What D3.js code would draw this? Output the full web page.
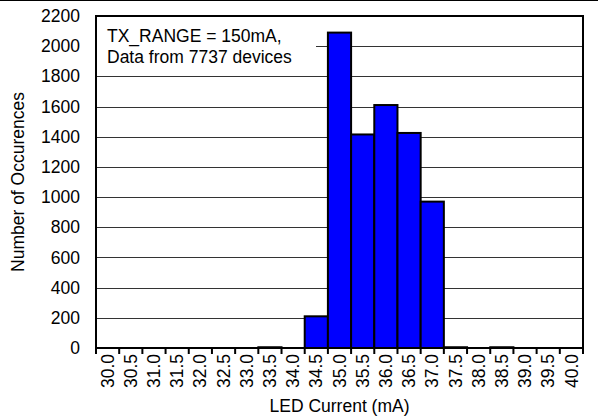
<!DOCTYPE html>
<html>
<head>
<meta charset="utf-8">
<script src="https://cdn.jsdelivr.net/npm/d3@7"></script>
<style>
	body {margin: 0; background: #fff;}
	svg text {font-family: "Liberation Sans", Arial, sans-serif; fill: #000;}
</style>
</head>
<body>
<div id="chart"></div>
<script>
//LED current bins (mA) and number of devices in each
var currents = ["30.0","30.5","31.0","31.5","32.0","32.5","33.0","33.5","34.0","34.5",
	"35.0","35.5","36.0","36.5","37.0","37.5","38.0","38.5","39.0","39.5","40.0"];
var counts = [0,0,0,0,0,0,0,5,0,210,2090,1415,1610,1425,970,5,0,5,0,0,0];
var yTicks = [0,200,400,600,800,1000,1200,1400,1600,1800,2000,2200];
var noteLines = ["TX_RANGE = 150mA,", "Data from 7737 devices"];

var width = 598, height = 418;
var margin = {top: 16, right: 15, bottom: 70, left: 96};
var innerW = width - margin.left - margin.right;
var innerH = height - margin.top - margin.bottom;
var fontSize = "17.5px";

var svg = d3.select("#chart").append("svg")
	.attr("width", width)
	.attr("height", height);

//line across the very top of the picture
svg.append("line")
	.attr("x1", 0).attr("x2", width)
	.attr("y1", 0.5).attr("y2", 0.5)
	.attr("stroke", "#000");

var g = svg.append("g")
	.attr("transform", "translate(" + margin.left + "," + margin.top + ")");

var x = d3.scaleBand().domain(currents).range([0, innerW]).padding(0);
var y = d3.scaleLinear().domain([0, 2200]).range([innerH, 0]);

//gridlines
g.selectAll(".grid")
	.data(yTicks.filter(function(d) {return d > 0 && d < 2200;}))
.enter().append("line")
	.attr("class", "grid")
	.attr("x1", 0).attr("x2", innerW)
	.attr("y1", function(d) {return Math.round(y(d)) + 0.5;})
	.attr("y2", function(d) {return Math.round(y(d)) + 0.5;})
	.attr("stroke", "#333")
	.attr("stroke-width", 1);

//note box (white background hides the gridline behind it)
var note = g.append("g").attr("transform", "translate(1,1)");
note.append("rect")
	.attr("width", 219).attr("height", 54)
	.attr("fill", "#fff");
note.selectAll("text")
	.data(noteLines)
.enter().append("text")
	.attr("x", 10)
	.attr("y", function(d, i) {return 25 + i * 21;})
	.style("font-size", fontSize)
	.text(function(d) {return d;});

//bars
g.selectAll(".bar")
	.data(counts)
.enter().append("rect")
	.attr("class", "bar")
	.attr("x", function(d, i) {return x(currents[i]);})
	.attr("width", x.bandwidth())
	.attr("y", function(d) {return y(d);})
	.attr("height", function(d) {return innerH - y(d);})
	.attr("fill", "#0000ff")
	.attr("stroke", "#000")
	.attr("stroke-width", 2);

//plot frame
g.append("rect")
	.attr("width", innerW).attr("height", innerH)
	.attr("fill", "none")
	.attr("stroke", "#000")
	.attr("stroke-width", 2);

//y axis labels
g.selectAll(".ylab")
	.data(yTicks)
.enter().append("text")
	.attr("class", "ylab")
	.attr("x", -16)
	.attr("y", function(d) {return y(d);})
	.attr("dy", "0.35em")
	.attr("text-anchor", "end")
	.style("font-size", fontSize)
	.text(function(d) {return d;});

//x tick marks at bin boundaries
var edges = d3.range(currents.length + 1).map(function(i) {return i * x.step();});
g.selectAll(".xtick")
	.data(edges)
.enter().append("line")
	.attr("class", "xtick")
	.attr("x1", function(d) {return d;}).attr("x2", function(d) {return d;})
	.attr("y1", innerH).attr("y2", innerH + 6)
	.attr("stroke", "#000")
	.attr("stroke-width", 2);

//x labels, rotated
g.selectAll(".xlab")
	.data(currents)
.enter().append("text")
	.attr("class", "xlab")
	.attr("transform", function(d) {
		return "translate(" + (x(d) + x.bandwidth() / 2) + "," + (innerH + 6) + ") rotate(-90)";
	})
	.attr("dy", "0.35em")
	.attr("text-anchor", "end")
	.style("font-size", fontSize)
	.text(function(d) {return d;});

//axis titles
svg.append("text")
	.attr("x", margin.left + innerW / 2)
	.attr("y", 412)
	.attr("text-anchor", "middle")
	.style("font-size", fontSize)
	.text("LED Current (mA)");

svg.append("text")
	.attr("transform", "translate(24," + (margin.top + innerH / 2) + ") rotate(-90)")
	.attr("text-anchor", "middle")
	.style("font-size", fontSize)
	.text("Number of Occurences");
</script>
</body>
</html>
